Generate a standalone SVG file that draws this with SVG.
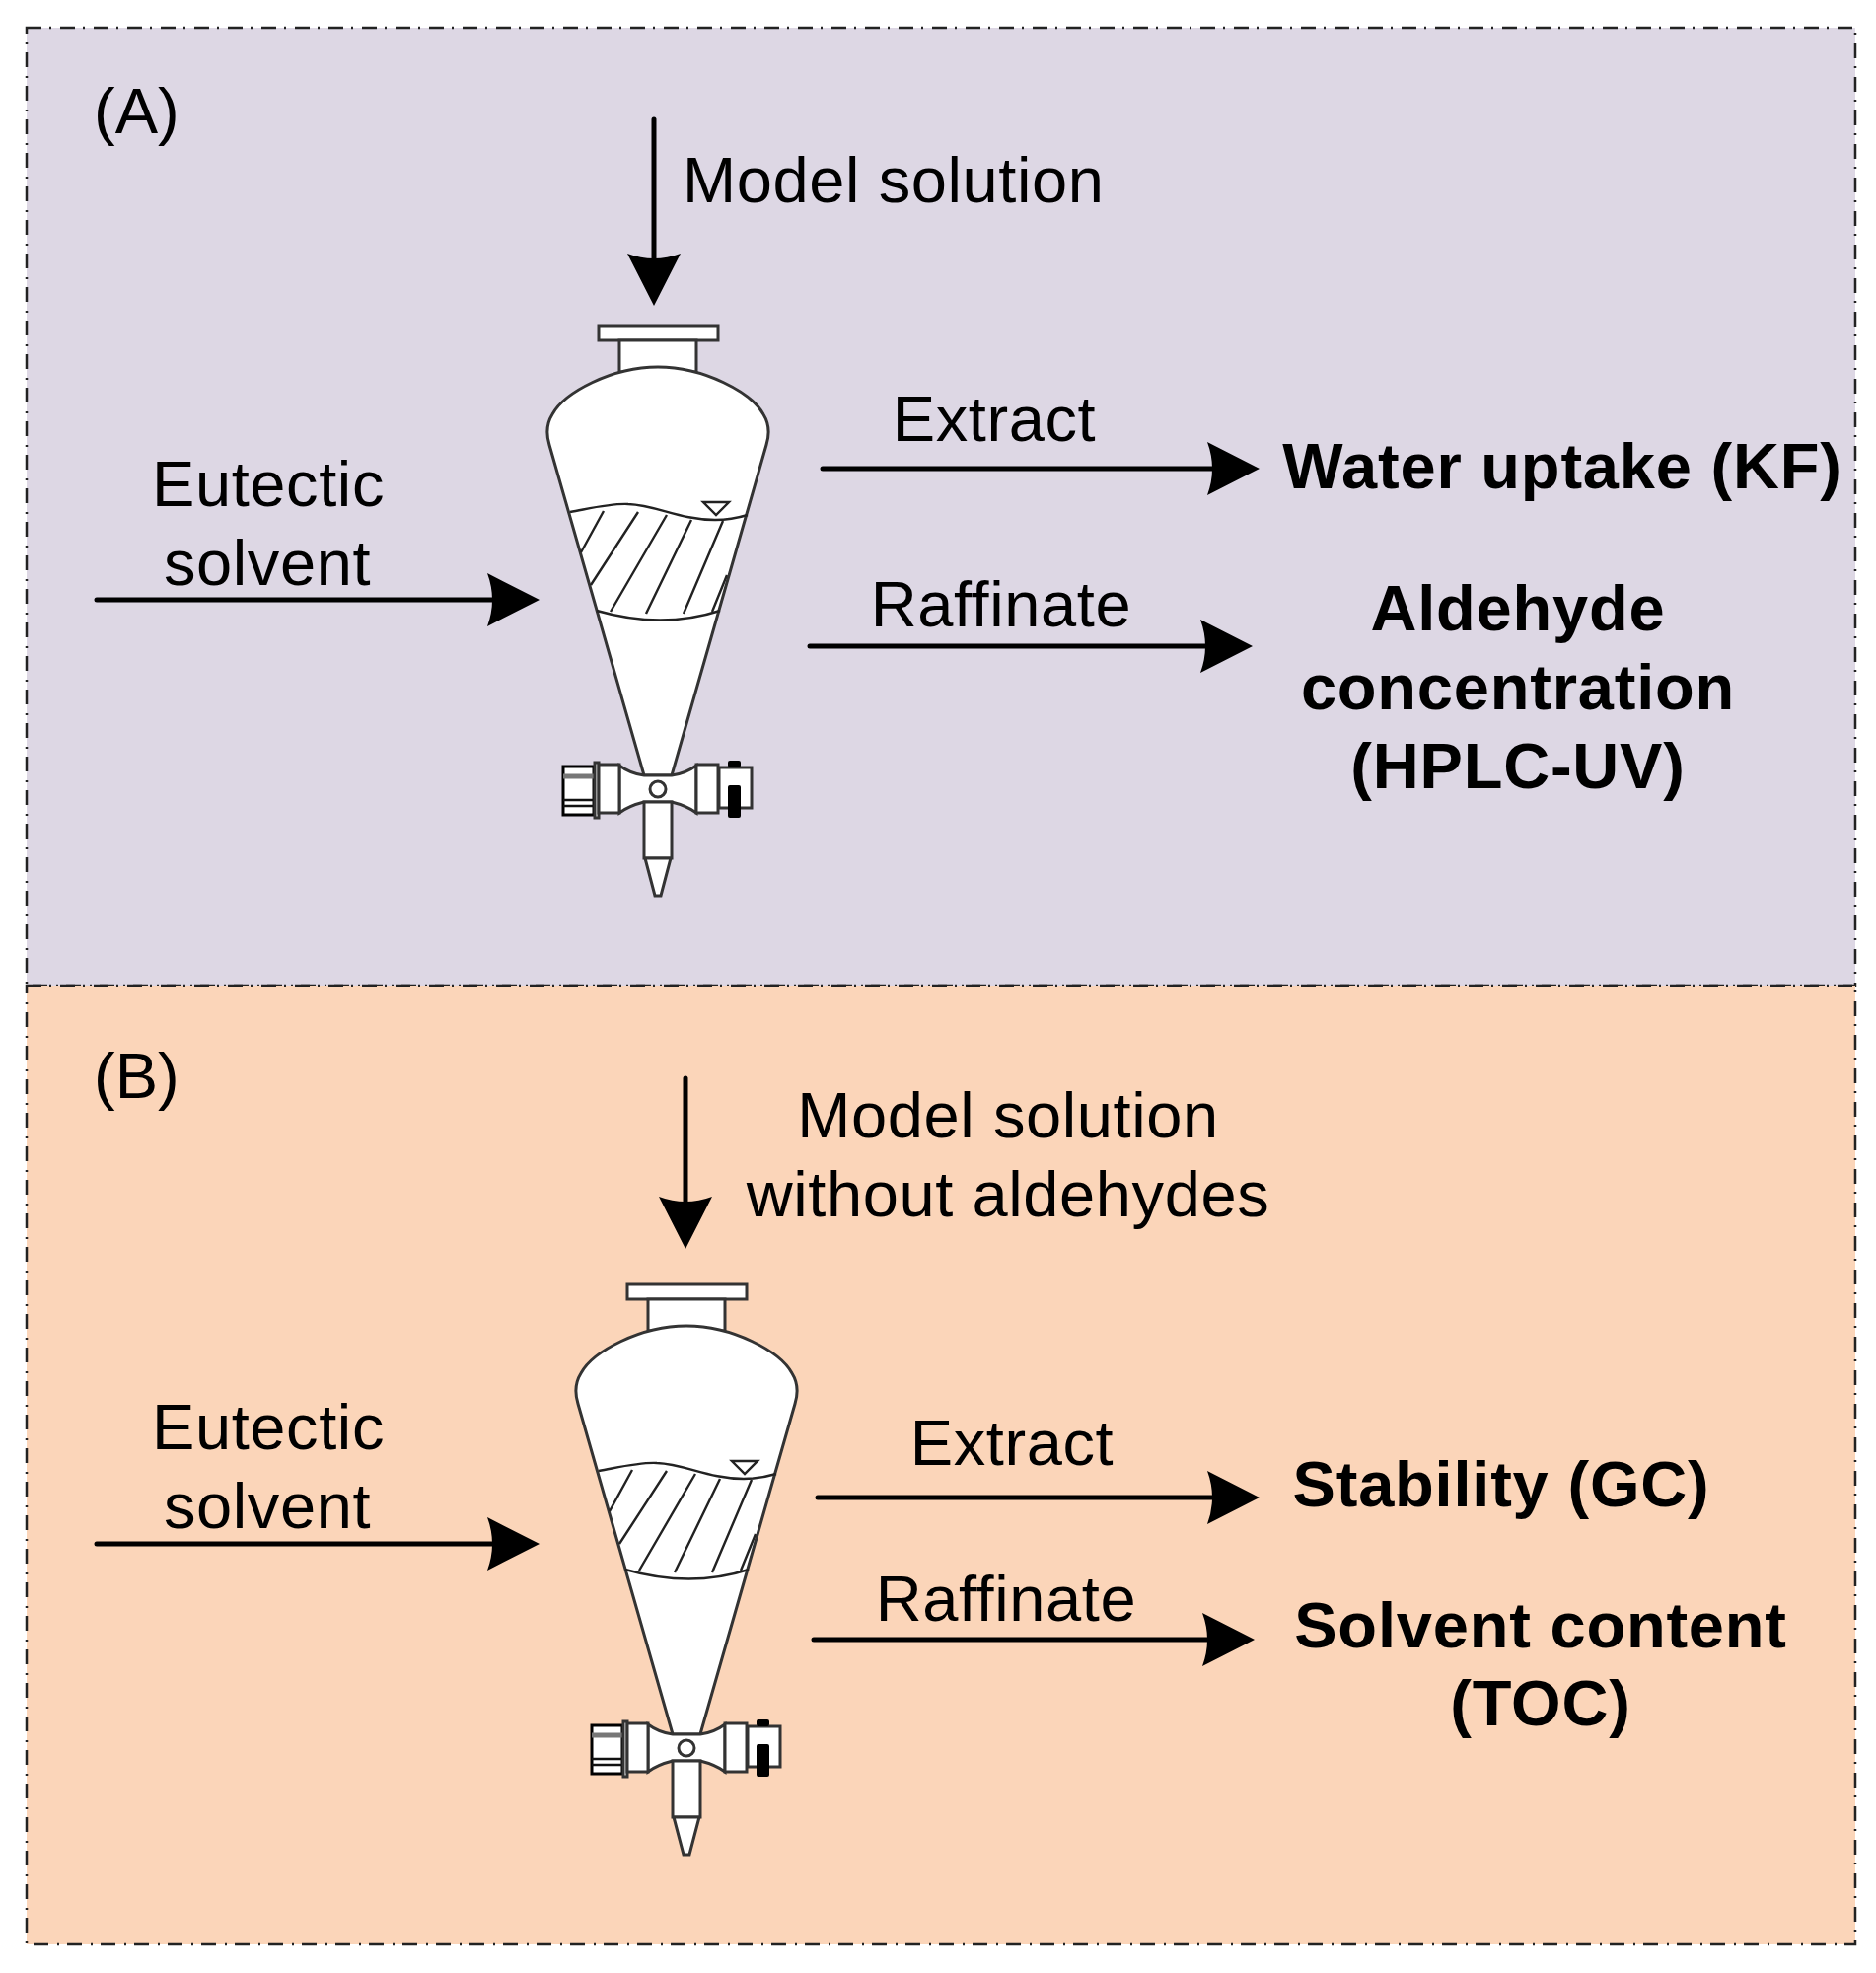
<svg xmlns="http://www.w3.org/2000/svg" width="1902" height="2000" viewBox="0 0 1902 2000">
<style>
text{font-family:"Liberation Sans",Arial,sans-serif;font-size:65px;letter-spacing:.6px;fill:#000;text-anchor:middle}
.b{font-weight:bold;letter-spacing:.8px}
.l{text-anchor:start}
.p{letter-spacing:0}
.panel{stroke:#222;stroke-width:2.5;stroke-dasharray:15 8 2 9}
.w{fill:#fff;stroke:#333;stroke-width:3}
.t{fill:none;stroke:#222;stroke-width:2.4}
.c{fill:none;stroke:#000;stroke-width:5;stroke-linecap:round}
.k{fill:#000}
</style>
<defs>
<marker id="ah" markerUnits="userSpaceOnUse" markerWidth="54" markerHeight="54" refX="20" refY="27" orient="auto"><path d="M0 0L53 27L0 54Q10 27 0 0Z" fill="#000"/></marker>
<g id="funnel">
<rect class="w" x="607" y="330" width="121" height="15"/>
<rect class="w" x="628" y="345" width="78" height="32"/>
<path class="w" d="M653 786L557 451C553 438 555 428 560 420C572 398 620 372 667 372C714 372 762 398 774 420C779 428 781 438 777 451L681 786Z"/>
<path class="t" d="M578 519C600 515 620 510 637 511C665 512 690 527 725 527C737 527 748 525 758 522"/>
<path class="t" d="M605 619C650 632 690 632 730 619"/>
<path class="t" d="M612 518L589 560M647 519L599 593M676 522L619 620M701 527L655 622M733 528L693 622M737 583L722 620"/>
<path class="t" d="M713 509H739L726 522Z"/>
<path class="w" d="M628 776C636 782 645 785 653 786H681C689 785 698 782 706 776V824C698 818 689 815 681 813H653C645 815 636 818 628 824Z"/>
<circle class="w" cx="667" cy="800" r="8"/>
<rect style="stroke-width:3;fill:#fff;stroke:#000" x="571" y="777" width="31" height="49"/>
<path d="M571 787H602" stroke="#777" stroke-width="5"/>
<path d="M571 811H602M571 817H602" stroke="#111" stroke-width="2.5"/>
<rect class="w" x="603" y="773" width="4" height="56"/>
<rect class="w" x="607" y="775" width="21" height="49"/>
<rect class="w" x="706" y="775" width="22" height="49"/>
<rect class="w" x="729" y="778" width="33" height="41"/>
<rect class="k" x="738" y="771" width="13" height="7" rx="2"/>
<rect class="k" x="738" y="796" width="13" height="33" rx="2"/>
<rect class="w" x="653" y="813" width="28" height="57"/>
<path class="w" d="M654 870H680L670 908H664Z"/>
</g>
</defs>
<g id="panel-a"><rect class="panel" x="27" y="28" width="1854" height="971" fill="#DDD7E4"/></g>
<g id="panel-b"><rect class="panel" x="27" y="999" width="1854" height="972" fill="#FBD5B9"/></g>
<g id="funnel-a"><use href="#funnel"/></g>
<g id="funnel-b"><use href="#funnel" x="29" y="972"/></g>
<g id="connectors">
<path class="c" marker-end="url(#ah)" d="M663 121V277"/>
<path class="c" marker-end="url(#ah)" d="M98 608H514"/>
<path class="c" marker-end="url(#ah)" d="M834 475H1244"/>
<path class="c" marker-end="url(#ah)" d="M821 655H1237"/>
<path class="c" marker-end="url(#ah)" d="M695 1093V1233"/>
<path class="c" marker-end="url(#ah)" d="M98 1565H514"/>
<path class="c" marker-end="url(#ah)" d="M829 1518H1244"/>
<path class="c" marker-end="url(#ah)" d="M825 1662H1239"/>
</g>
<g id="labels-a">
<text class="l p" x="95" y="135">(A)</text>
<text class="l" x="692" y="205">Model solution</text>
<text x="272" y="513">Eutectic</text>
<text x="271" y="593">solvent</text>
<text x="1008" y="447">Extract</text>
<text x="1015" y="635">Raffinate</text>
<text class="b" x="1584" y="495">Water uptake (KF)</text>
<text class="b" x="1539" y="639">Aldehyde</text>
<text class="b" x="1539" y="719">concentration</text>
<text class="b" x="1539" y="799">(HPLC-UV)</text>
</g>
<g id="labels-b">
<text class="l p" x="95" y="1113">(B)</text>
<text x="1022" y="1153">Model solution</text>
<text x="1022" y="1233">without aldehydes</text>
<text x="272" y="1469">Eutectic</text>
<text x="271" y="1549">solvent</text>
<text x="1026" y="1485">Extract</text>
<text x="1020" y="1643">Raffinate</text>
<text class="b" x="1522" y="1527">Stability (GC)</text>
<text class="b" x="1562" y="1670">Solvent content</text>
<text class="b" x="1562" y="1749">(TOC)</text>
</g>
</svg>
